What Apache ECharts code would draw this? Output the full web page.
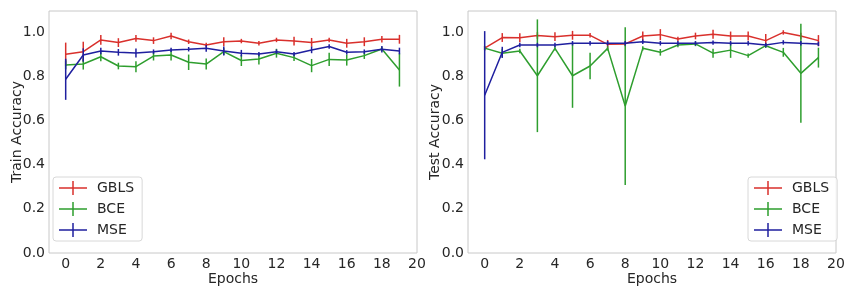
<!DOCTYPE html>
<html>
<head>
<meta charset="utf-8">
<script src="https://cdn.jsdelivr.net/npm/echarts@6/dist/echarts.min.js"></script>
<style>
  html, body { margin: 0; padding: 0; background: #fff; }
  #main { width: 851px; height: 295px; }
</style>
</head>
<body>
<div id="main"></div>
<script>
// data
var epochs = [0, 1, 2, 3, 4, 5, 6, 7, 8, 9, 10, 11, 12, 13, 14, 15, 16, 17, 18, 19];
var xTicks = [0, 2, 4, 6, 8, 10, 12, 14, 16, 18, 20];
var yTicks = [0, 0.2, 0.4, 0.6, 0.8, 1.0];

// train accuracy
var trainGbls    = [0.899, 0.911, 0.964, 0.952, 0.971, 0.961, 0.982, 0.956, 0.941, 0.956, 0.959, 0.949, 0.964, 0.959, 0.953, 0.964, 0.949, 0.956, 0.967, 0.967];
var trainGblsErr = [0.053, 0.045, 0.022, 0.020, 0.015, 0.015, 0.015, 0.010, 0.010, 0.020, 0.010, 0.010, 0.010, 0.020, 0.020, 0.010, 0.020, 0.020, 0.015, 0.020];
var trainBce     = [0.851, 0.855, 0.888, 0.846, 0.843, 0.891, 0.896, 0.863, 0.855, 0.911, 0.871, 0.878, 0.904, 0.884, 0.848, 0.876, 0.873, 0.893, 0.923, 0.828];
var trainBceErr  = [0.020, 0.025, 0.020, 0.015, 0.025, 0.020, 0.025, 0.035, 0.025, 0.015, 0.025, 0.025, 0.020, 0.015, 0.030, 0.030, 0.025, 0.015, 0.010, 0.075];
var trainMse     = [0.786, 0.896, 0.914, 0.908, 0.905, 0.911, 0.919, 0.922, 0.926, 0.914, 0.904, 0.900, 0.911, 0.900, 0.919, 0.934, 0.908, 0.911, 0.922, 0.914];
var trainMseErr  = [0.093, 0.030, 0.015, 0.015, 0.020, 0.010, 0.010, 0.010, 0.015, 0.020, 0.015, 0.010, 0.010, 0.010, 0.015, 0.010, 0.010, 0.010, 0.015, 0.015];

// test accuracy
var testGbls    = [0.927, 0.975, 0.974, 0.984, 0.979, 0.985, 0.985, 0.944, 0.946, 0.982, 0.988, 0.968, 0.982, 0.990, 0.982, 0.982, 0.961, 0.998, 0.982, 0.961];
var testGblsErr = [0.010, 0.020, 0.020, 0.015, 0.020, 0.020, 0.010, 0.020, 0.010, 0.020, 0.025, 0.010, 0.015, 0.020, 0.020, 0.020, 0.030, 0.010, 0.015, 0.025];
var testBce     = [0.927, 0.904, 0.914, 0.802, 0.926, 0.802, 0.846, 0.926, 0.665, 0.926, 0.908, 0.941, 0.946, 0.904, 0.918, 0.893, 0.938, 0.908, 0.813, 0.884];
var testBceErr  = [0.010, 0.020, 0.010, 0.255, 0.010, 0.145, 0.060, 0.010, 0.357, 0.010, 0.015, 0.010, 0.010, 0.020, 0.035, 0.010, 0.010, 0.020, 0.224, 0.045];
var testMse     = [0.714, 0.908, 0.941, 0.941, 0.941, 0.949, 0.949, 0.949, 0.949, 0.956, 0.949, 0.949, 0.949, 0.952, 0.949, 0.949, 0.941, 0.953, 0.949, 0.946];
var testMseErr  = [0.290, 0.025, 0.010, 0.010, 0.010, 0.010, 0.010, 0.010, 0.010, 0.010, 0.010, 0.010, 0.010, 0.010, 0.010, 0.010, 0.010, 0.010, 0.010, 0.010];

var names = ['GBLS', 'BCE', 'MSE'];
var colors = ['#d9302c', '#2e9e2e', '#1f1f9f'];
var font = 'DejaVu Sans';

var chart = echarts.init(document.getElementById('main'));

// vertical error bar, drawn through the axis scales
function errRender(params, api) {
  var x = api.value(0);
  var p1 = api.coord([x, api.value(1)]);
  var p2 = api.coord([x, api.value(2)]);
  return {
    type: 'line',
    shape: { x1: p1[0], y1: p1[1], x2: p2[0], y2: p2[1] },
    style: { stroke: api.visual('color'), lineWidth: 1.5 }
  };
}

function pairs(vals) {
  return epochs.map(function (e, i) { return [e, vals[i]]; });
}
function bars(vals, errs) {
  return epochs.map(function (e, i) { return [e, vals[i] - errs[i], vals[i] + errs[i]]; });
}

function xAxisOf(idx) {
  return {
    type: 'value', gridIndex: idx, min: -0.95, max: 20,
    name: 'Epochs', nameLocation: 'middle', nameGap: 19, nameMoveOverlap: false,
    nameTextStyle: { fontFamily: font, fontSize: 14, color: '#262626' },
    axisLine: { show: false }, axisTick: { show: false }, splitLine: { show: false },
    axisLabel: { customValues: xTicks, margin: 4, fontFamily: font, fontSize: 14, color: '#262626' }
  };
}
function yAxisOf(idx, title, gap) {
  return {
    type: 'value', gridIndex: idx, min: 0, max: 1.095,
    name: title, nameLocation: 'middle', nameGap: gap, nameRotate: 90, nameMoveOverlap: false,
    nameTextStyle: { fontFamily: font, fontSize: 14, color: '#262626' },
    axisLine: { show: false }, axisTick: { show: false }, splitLine: { show: false },
    axisLabel: {
      customValues: yTicks, margin: 4, fontFamily: font, fontSize: 14, color: '#262626',
      formatter: function (v) { return v.toFixed(1); }
    }
  };
}

var series = [];
function addPanel(idx, groups) {
  groups.forEach(function (g, k) {
    series.push({
      name: names[k], type: 'line', xAxisIndex: idx, yAxisIndex: idx,
      data: pairs(g[0]), showSymbol: false, symbol: 'none', z: 2 + k,
      lineStyle: { color: colors[k], width: 1.5 }, itemStyle: { color: colors[k] },
      animation: false
    });
    series.push({
      name: names[k] + ' err', type: 'custom', xAxisIndex: idx, yAxisIndex: idx,
      data: bars(g[0], g[1]), renderItem: errRender, z: 2 + k,
      encode: { x: 0, y: [1, 2] }, itemStyle: { color: colors[k] },
      animation: false
    });
  });
}
addPanel(0, [[trainGbls, trainGblsErr], [trainBce, trainBceErr], [trainMse, trainMseErr]]);
addPanel(1, [[testGbls, testGblsErr], [testBce, testBceErr], [testMse, testMseErr]]);

function legendAt(left) {
  return {
    data: names, orient: 'vertical', left: left, top: 177,
    icon: 'path://M0,6.25h28v1.5h-28z M13.25,0h1.5v14h-1.5z',
    itemWidth: 28, itemHeight: 14, itemGap: 7,
    padding: [4, 8, 4, 6],
    backgroundColor: 'rgba(255,255,255,0.8)', borderColor: '#d8d8d8', borderWidth: 1, borderRadius: 3,
    textStyle: { fontFamily: font, fontSize: 14, color: '#262626', padding: [0, 0, 0, 5] },
    selectedMode: false
  };
}

chart.setOption({
  backgroundColor: '#ffffff',
  animation: false,
  grid: [
    { left: 49, top: 11, width: 368, height: 242, show: true, borderColor: '#c8c8c8', borderWidth: 1, backgroundColor: 'transparent' },
    { left: 468, top: 11, width: 368, height: 242, show: true, borderColor: '#c8c8c8', borderWidth: 1, backgroundColor: 'transparent' }
  ],
  xAxis: [xAxisOf(0), xAxisOf(1)],
  yAxis: [yAxisOf(0, 'Train Accuracy', 25), yAxisOf(1, 'Test Accuracy', 26)],
  legend: [legendAt(53), legendAt(748)],
  series: series
});
</script>
</body>
</html>
